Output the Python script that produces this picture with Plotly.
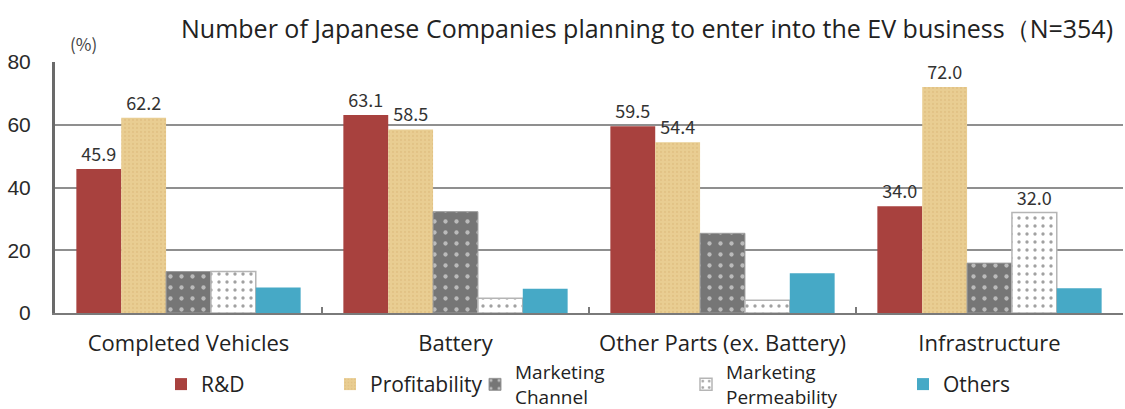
import plotly.graph_objects as go

# Survey shares (%) by business area and entry motive
categories = ["Completed Vehicles", "Battery", "Other Parts (ex. Battery)", "Infrastructure"]
rd = [45.9, 63.1, 59.5, 34.0]
profitability = [62.2, 58.5, 54.4, 72.0]
marketing_channel = [13.2, 32.3, 25.4, 15.9]
marketing_permeability = [13.2, 4.7, 4.1, 32.0]
others = [8.1, 7.7, 12.7, 7.9]

series_names = ["R&D", "Profitability", "Marketing<br>Channel", "Marketing<br>Permeability", "Others"]
y_ticks = [0, 20, 40, 60, 80]

# which values carry a data label
label_mask = {
    "rd": [True, True, True, True],
    "profitability": [True, True, True, True],
    "marketing_channel": [False, False, False, False],
    "marketing_permeability": [False, False, False, True],
    "others": [False, False, False, False],
}


def labels(values, mask):
    return [f"{v:.1f}" if m else "" for v, m in zip(values, mask)]


label_font = dict(family="Noto Sans CJK JP", size=18, color="#333333")

fig = go.Figure()

fig.add_trace(go.Bar(
    name=series_names[0], x=categories, y=rd, legend="legend",
    marker=dict(color="#A8413E", line=dict(width=0)),
    text=labels(rd, label_mask["rd"]), textposition="outside", textfont=label_font,
))
fig.add_trace(go.Bar(
    name=series_names[1], x=categories, y=profitability, legend="legend2",
    marker=dict(color="#E9CD92", line=dict(width=0),
                pattern=dict(shape=".", fgcolor="#D9B878", bgcolor="#E9CD92", size=4, solidity=0.25)),
    text=labels(profitability, label_mask["profitability"]), textposition="outside", textfont=label_font,
))
fig.add_trace(go.Bar(
    name=series_names[2], x=categories, y=marketing_channel, legend="legend3",
    marker=dict(color="#767676", line=dict(width=1, color="#9a9a9a"),
                pattern=dict(shape=".", fgcolor="#ffffff", bgcolor="#767676", size=11, solidity=0.12)),
    text=labels(marketing_channel, label_mask["marketing_channel"]), textposition="outside", textfont=label_font,
))
fig.add_trace(go.Bar(
    name=series_names[3], x=categories, y=marketing_permeability, legend="legend4",
    marker=dict(color="#ffffff", line=dict(width=1.5, color="#b5b5b5"),
                pattern=dict(shape=".", fgcolor="#444444", bgcolor="#ffffff", size=8, solidity=0.14)),
    text=labels(marketing_permeability, label_mask["marketing_permeability"]), textposition="outside",
    textfont=label_font,
))
fig.add_trace(go.Bar(
    name=series_names[4], x=categories, y=others, legend="legend5",
    marker=dict(color="#46A9C6", line=dict(width=0)),
    text=labels(others, label_mask["others"]), textposition="outside", textfont=label_font,
))

fig.update_traces(cliponaxis=False)


def legend_box(left_px, y, size=21):
    # one legend box per series, placed along the bottom row
    return dict(
        orientation="h", x=(left_px - 55) / 1068, xanchor="left", y=y, yanchor="top",
        font=dict(family="Open Sans", size=size, color="#222222"),
        itemwidth=30, bgcolor="rgba(0,0,0,0)",
    )


fig.update_layout(
    width=1125, height=409,
    margin=dict(l=55, r=2, t=62, b=96, autoexpand=False),
    paper_bgcolor="white", plot_bgcolor="white",
    barmode="group", bargap=0.16, bargroupgap=0,
    font=dict(family="Open Sans", color="#222222"),
    xaxis=dict(
        type="category", showline=True, linecolor="#7a7a7a", linewidth=2,
        showgrid=False, tickson="boundaries", ticks="inside", ticklen=6, tickcolor="#7a7a7a", tickwidth=1.5,
        tickfont=dict(family="Open Sans", size=22, color="#222222"), tickangle=0,
        ticklabelstandoff=10,
    ),
    yaxis=dict(
        range=[0, 80], tickvals=y_ticks, showgrid=True, gridcolor="#8f8f8f", gridwidth=2,
        showline=True, linecolor="#6a6a6a", linewidth=3, zeroline=False,
        ticks="", tickfont=dict(family="Liberation Sans", size=21, color="#2a2a2a"),
        ticklabelstandoff=17,
    ),
    legend=legend_box(161, -0.203),
    legend2=legend_box(330, -0.203),
    legend3=legend_box(475, -0.16, size=19),
    legend4=legend_box(686, -0.16, size=19),
    legend5=legend_box(903, -0.203),
    showlegend=True,
)

fig.add_annotation(
    text="Number of Japanese Companies planning to enter into the EV business（N=354)",
    xref="paper", yref="paper", x=0.9925, xanchor="right", y=1.0, yanchor="bottom", yshift=15,
    showarrow=False, font=dict(family="Open Sans", size=25, color="#222222"),
)
fig.add_annotation(
    text="(%)", xref="paper", yref="paper", x=0.012, xanchor="left", y=1.0, yanchor="bottom", yshift=4,
    showarrow=False, font=dict(family="Noto Sans CJK JP", size=17, color="#444444"),
)

fig.write_html("out.html")
